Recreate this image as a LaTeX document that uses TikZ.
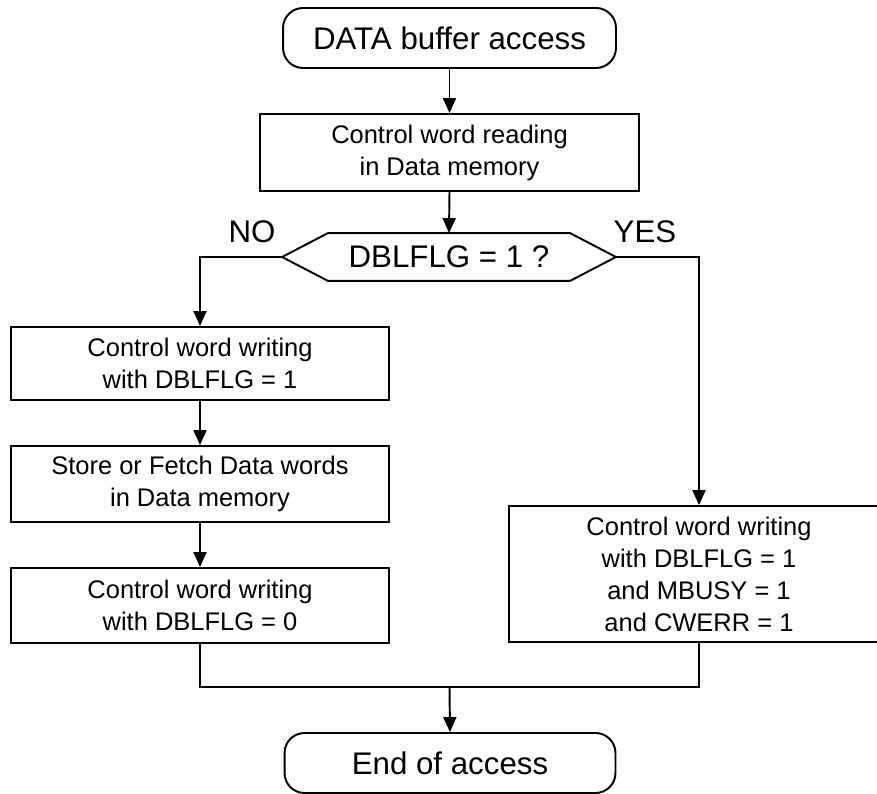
\documentclass[tikz,border=0pt]{standalone}
\usepackage{fontspec}
\setmainfont{Liberation Sans}
\usetikzlibrary{arrows.meta,calc}
\begin{document}
\begin{tikzpicture}[x=0.02cm,y=-0.02cm,
  line width=1.1pt,
  big/.style={font=\fontsize{17.8}{21}\selectfont},
  small/.style={font=\fontsize{14.5}{18.2}\selectfont},
  terminal/.style={draw,rounded corners=0.4cm,inner sep=0pt,big},
  proc/.style={draw,inner sep=0pt,small,align=center},
  flow/.style={-{Triangle[length=8.5pt,width=7.4pt]}}]
\clip (0,0) rectangle (877,794);
\fill[white] (0,0) rectangle (877,794);

% terminals and process boxes
\node[terminal,minimum width=6.66cm,minimum height=1.2cm] (start) at (449.5,38) {DATA buffer access};
\node[proc,minimum width=7.58cm,minimum height=1.54cm] (read) at (449.5,152.5) {Control word reading\\in Data memory};
\node[inner sep=0pt,minimum width=6.64cm,minimum height=0.92cm,big] (dec) at (449,257) {DBLFLG = 1 ?};
\draw (dec.west) -- ([xshift=0.92cm]dec.north west) -- ([xshift=-0.92cm]dec.north east)
  -- (dec.east) -- ([xshift=-0.92cm]dec.south east) -- ([xshift=0.92cm]dec.south west) -- cycle;

\node[big] (no) at (252,232) {NO};
\node[big] (yes) at (645,232) {YES};

\node[proc,minimum width=7.56cm,minimum height=1.46cm] (w1) at (200,363.5) {Control word writing\\with DBLFLG = 1};
\node[proc,minimum width=7.56cm,minimum height=1.52cm] (sf) at (200,484) {Store or Fetch Data words\\in Data memory};
\node[proc,minimum width=7.56cm,minimum height=1.5cm] (w0) at (200,605.5) {Control word writing\\with DBLFLG = 0};
\node[proc,minimum width=7.6cm,minimum height=2.72cm] (err) at (699,574) {Control word writing\\with DBLFLG = 1\\and MBUSY = 1\\and CWERR = 1};

\node[terminal,minimum width=6.62cm,minimum height=1.2cm] (end) at (450,763) {End of access};
\coordinate (merge) at (449.5,687);

% connectors
\draw[flow] (start.south) -- (read.north);
\draw[flow] (read.south) -- (dec.north);
\draw[flow] (dec.west) -| (w1.north);
\draw[flow] (dec.east) -| (err.north);
\draw[flow] (w1.south) -- (sf.north);
\draw[flow] (sf.south) -- (w0.north);
\draw (w0.south) |- (merge) -| (err.south);
\draw[flow] (merge) -- (end.north);
\end{tikzpicture}
\end{document}
